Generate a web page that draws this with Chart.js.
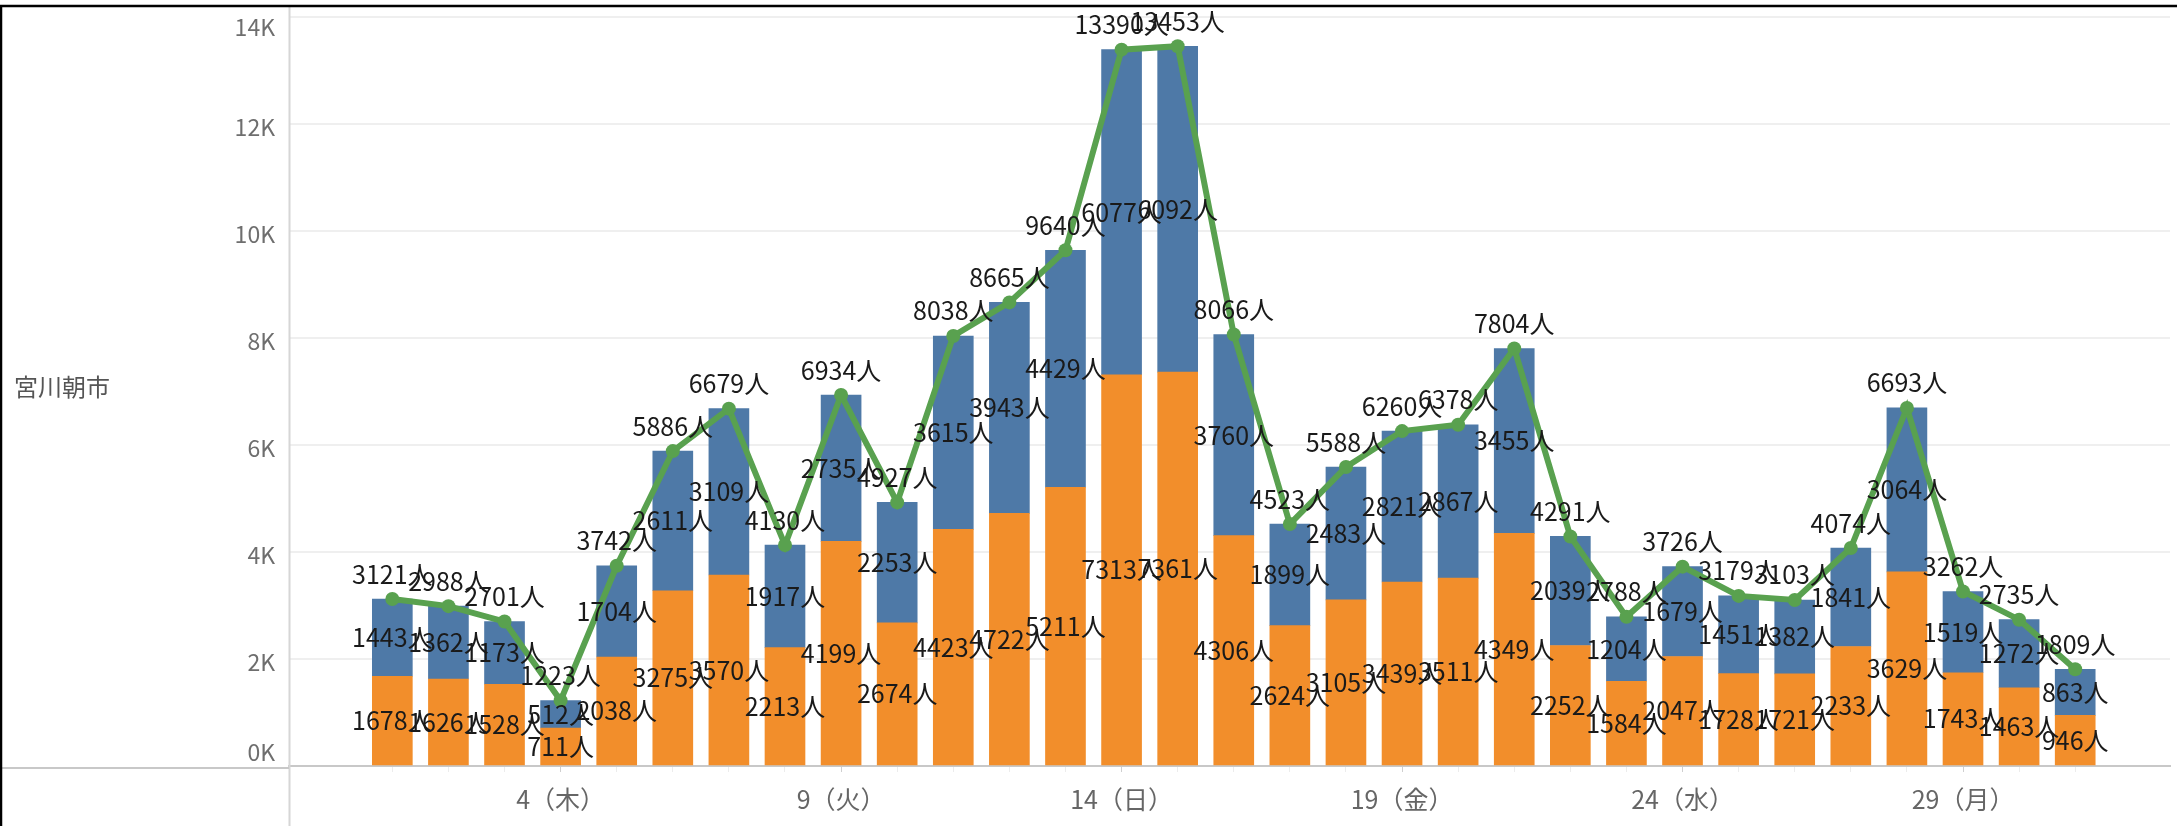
<!DOCTYPE html>
<html>
<head>
<meta charset="utf-8">
<script src="https://cdn.jsdelivr.net/npm/chart.js@4/dist/chart.umd.min.js"></script>
<style>
  html, body { margin: 0; padding: 0; background: #fff; }
  #wrap { position: relative; width: 2177px; height: 826px; overflow: hidden; }
  #chart { position: absolute; left: 0; top: 0; }
  #rowHeader {
    position: absolute; left: 14px; top: 368px;
    font: 24px "Noto Sans CJK JP", "Noto Sans", sans-serif; color: #555;
  }
</style>
</head>
<body>
<div id="wrap">
  <canvas id="chart" width="2177" height="826"></canvas>
  <div id="rowHeader">宮川朝市</div>
</div>
<script>
// days of the month (1..31)
const days = [1, 2, 3, 4, 5, 6, 7, 8, 9, 10, 11, 12, 13, 14, 15, 16,
  17, 18, 19, 20, 21, 22, 23, 24, 25, 26, 27, 28, 29, 30, 31];
// bottom (orange) segment
const orangeValues = [1678, 1626, 1528, 711, 2038, 3275, 3570, 2213, 4199, 2674, 4423, 4722,
  5211, 7313, 7361, 4306, 2624, 3105, 3439, 3511, 4349, 2252, 1584, 2047, 1728, 1721, 2233,
  3629, 1743, 1463, 946];
// top (blue) segment
const blueValues = [1443, 1362, 1173, 512, 1704, 2611, 3109, 1917, 2735, 2253, 3615, 3943,
  4429, 6077, 6092, 3760, 1899, 2483, 2821, 2867, 3455, 2039, 1204, 1679, 1451, 1382, 1841,
  3064, 1519, 1272, 863];
// totals shown on the green line
const totalValues = [3121, 2988, 2701, 1223, 3742, 5886, 6679, 4130, 6934, 4927, 8038, 8665,
  9640, 13390, 13453, 8066, 4523, 5588, 6260, 6378, 7804, 4291, 2788, 3726, 3179, 3103, 4074,
  6693, 3262, 2735, 1809];

const tickDays = [4, 9, 14, 19, 24, 29];
const tickLabels = ['4（木）', '9（火）', '14（日）', '19（金）', '24（水）', '29（月）'];
const yTickValues = [0, 2000, 4000, 6000, 8000, 10000, 12000, 14000];
const yTickLabels = ['0K', '2K', '4K', '6K', '8K', '10K', '12K', '14K'];

const FONT = '"Noto Sans CJK JP", "Noto Sans", sans-serif';

const toPoints = (vals) => vals.map((v, i) => ({ x: days[i], y: v }));

// frame lines, y tick labels (Tableau style)
const framePlugin = {
  id: 'frame',
  afterDraw(chart) {
    const ctx = chart.ctx;
    const area = chart.chartArea;
    const yScale = chart.scales.y;
    ctx.save();
    // y tick labels
    ctx.font = '23px ' + FONT;
    ctx.fillStyle = '#6e6e6e';
    ctx.textAlign = 'right';
    ctx.textBaseline = 'middle';
    yTickValues.forEach((v, i) => {
      let y = yScale.getPixelForValue(v) + 3;
      if (i === 0) y -= 17;
      if (i === yTickValues.length - 1) y += 7;
      ctx.fillText(yTickLabels[i], area.left - 14, y);
    });
    // divider between header and pane
    ctx.strokeStyle = '#d6d6d6';
    ctx.lineWidth = 2;
    ctx.beginPath();
    ctx.moveTo(area.left + 0.5, 7);
    ctx.lineTo(area.left + 0.5, chart.height);
    ctx.stroke();
    // bottom line under header
    ctx.strokeStyle = '#c8c8c8';
    ctx.beginPath();
    ctx.moveTo(0, area.bottom + 2);
    ctx.lineTo(area.left, area.bottom + 2);
    ctx.stroke();
    // black border top / left
    ctx.strokeStyle = '#000';
    ctx.lineWidth = 2.5;
    ctx.beginPath();
    ctx.moveTo(0, 6);
    ctx.lineTo(chart.width, 6);
    ctx.stroke();
    ctx.beginPath();
    ctx.moveTo(1, 6);
    ctx.lineTo(1, chart.height);
    ctx.stroke();
    ctx.restore();
  }
};

// value labels on bars and line
const labelPlugin = {
  id: 'valueLabels',
  afterDatasetsDraw(chart) {
    const ctx = chart.ctx;
    ctx.save();
    ctx.font = '25px ' + FONT;
    ctx.fillStyle = '#1a1a1a';
    ctx.textAlign = 'center';
    ctx.textBaseline = 'middle';
    chart.data.datasets.forEach((ds, i) => {
      const meta = chart.getDatasetMeta(i);
      meta.data.forEach((el, j) => {
        const v = ds.data[j].y;
        const y = ds.type === 'line' ? el.y - 25 : (el.y + el.base) / 2;
        ctx.fillText(v + '人', el.x, y);
      });
    });
    ctx.restore();
  }
};

new Chart(document.getElementById('chart'), {
  type: 'bar',
  data: {
    datasets: [
      {
        type: 'line',
        data: toPoints(totalValues),
        stack: 'total',
        order: 0,
        borderColor: '#59A14F',
        backgroundColor: '#59A14F',
        borderWidth: 6,
        pointRadius: 7,
        pointBackgroundColor: '#59A14F',
        pointBorderWidth: 0,
        tension: 0,
      },
      {
        data: toPoints(orangeValues),
        stack: 'bars',
        order: 1,
        backgroundColor: '#F28E2B',
        barThickness: 40,
      },
      {
        data: toPoints(blueValues),
        stack: 'bars',
        order: 1,
        backgroundColor: '#4E79A7',
        barThickness: 40,
      },
    ],
  },
  options: {
    responsive: false,
    animation: false,
    devicePixelRatio: 1,
    layout: { padding: { top: 17, right: 0, bottom: 0, left: 0 } },
    plugins: { legend: { display: false }, tooltip: { enabled: false } },
    scales: {
      x: {
        type: 'linear',
        offset: false,
        min: -0.842,
        max: 32.69,
        afterFit: (scale) => { scale.height = 60; },
        afterBuildTicks: (scale) => { scale.ticks = days.map((d) => ({ value: d })); },
        border: { display: true, color: '#c8c8c8', width: 2 },
        grid: {
          offset: false,
          drawOnChartArea: false,
          tickLength: 6,
          color: (c) => (tickDays.includes(c.tick && c.tick.value) ? '#cfcfcf' : '#ececec'),
        },
        ticks: {
          autoSkip: false,
          maxRotation: 0,
          padding: 12,
          color: '#666',
          font: { family: FONT, size: 25 },
          callback: (v) => {
            const k = tickDays.indexOf(v);
            return k >= 0 ? tickLabels[k] : '';
          },
        },
      },
      y: {
        min: 0,
        max: 14000,
        afterFit: (scale) => { scale.width = 289; },
        afterBuildTicks: (scale) => { scale.ticks = yTickValues.map((v) => ({ value: v })); },
        border: { display: false },
        grid: { color: '#efefef', lineWidth: 2, drawTicks: false },
        ticks: { display: false },
      },
    },
  },
  plugins: [framePlugin, labelPlugin],
});
</script>
</body>
</html>
